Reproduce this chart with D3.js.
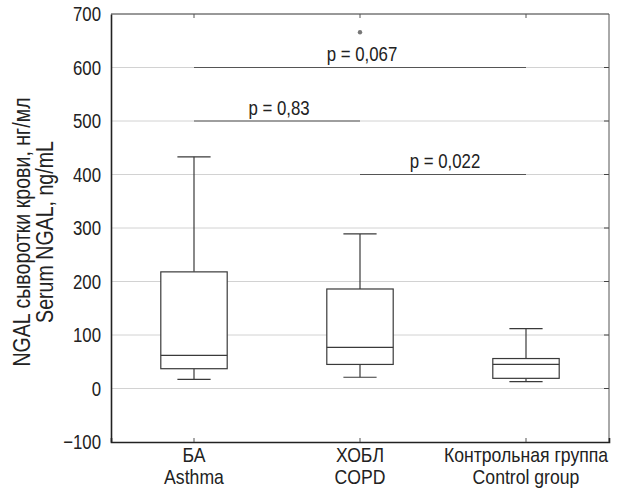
<!DOCTYPE html>
<html>
<head>
<meta charset="utf-8">
<script src="https://cdn.jsdelivr.net/npm/d3@7"></script>
<style>
  body { margin: 0; background: #fff; }
  text { font-family: "Liberation Sans", Arial, sans-serif; fill: #222; }
</style>
</head>
<body>
<svg id="chart" width="619" height="492"></svg>
<script>
// DATA
var groups_ru = ["БА", "ХОБЛ", "Контрольная группа"];
var groups_en = ["Asthma", "COPD", "Control group"];
var whisker_low  = [17, 21, 13];
var q1           = [37, 45, 19];
var median       = [62, 77, 45];
var q3           = [218, 186, 56];
var whisker_high = [433, 289, 112];
var outliers = [{group: 1, value: 666}];
var y_ticks = [-100, 0, 100, 200, 300, 400, 500, 600, 700];
var comparisons = [
  {from: 0, to: 2, level: 600, label: "p = 0,067"},
  {from: 0, to: 1, level: 500, label: "p = 0,83"},
  {from: 1, to: 2, level: 400, label: "p = 0,022"}
];

// arial narrow is not around, so squeeze arial sideways
var NARROW = 0.8;
function narrow(sel, cx, cy, k){
  sel.attr("transform", "translate(" + cx + "," + cy + ") scale(" + (k || NARROW) + ",1) translate(" + (-cx) + "," + (-cy) + ")");
}

// RENDERING
var svg = d3.select("#chart");
var margin = {left: 111, top: 14, right: 10, bottom: 50};
var w = 619 - margin.left - margin.right,
    h = 492 - margin.top - margin.bottom;

var g = svg.append("g").attr("transform", "translate(" + margin.left + "," + margin.top + ")");

var x = d3.scaleBand().domain(d3.range(groups_ru.length)).range([0, w]);
var y = d3.scaleLinear().domain([-100, 700]).range([h, 0]);
var inner_ticks = y_ticks.filter(function(t){ return t > -100 && t < 700; });

// grid
g.selectAll(".grid").data(inner_ticks)
  .enter().append("line")
    .attr("class", "grid")
    .attr("x1", 0).attr("x2", w)
    .attr("y1", function(d){ return y(d); })
    .attr("y2", function(d){ return y(d); })
    .attr("stroke", "#d2d2d2").attr("stroke-width", 1);

// right-side inner ticks
g.selectAll(".rtick").data(inner_ticks)
  .enter().append("line")
    .attr("x1", w - 5).attr("x2", w)
    .attr("y1", function(d){ return y(d); })
    .attr("y2", function(d){ return y(d); })
    .attr("stroke", "#444");

// comparisons
comparisons.forEach(function(c){
  var x1 = x(c.from) + x.bandwidth()/2,
      x2 = x(c.to) + x.bandwidth()/2;
  g.append("line")
    .attr("x1", x1).attr("x2", x2)
    .attr("y1", y(c.level)).attr("y2", y(c.level))
    .attr("stroke", "#555").attr("stroke-width", 1.2);
  var tx = (x1 + x2)/2 + 2, ty = y(c.level) - 6;
  g.append("text")
    .attr("x", tx)
    .attr("y", ty)
    .attr("text-anchor", "middle")
    .style("font-size", "21px")
    .text(c.label)
    .call(narrow, tx, ty);
});

// boxes
var bw = x.bandwidth() * 0.4;
groups_ru.forEach(function(name, i){
  var cx = x(i) + x.bandwidth()/2;
  var box = g.append("g").attr("stroke", "#3a3a3a").attr("stroke-width", 1.2).attr("fill", "none");
  box.append("line").attr("x1", cx).attr("x2", cx).attr("y1", y(whisker_high[i])).attr("y2", y(q3[i]));
  box.append("line").attr("x1", cx).attr("x2", cx).attr("y1", y(q1[i])).attr("y2", y(whisker_low[i]));
  box.append("line").attr("x1", cx - bw/4).attr("x2", cx + bw/4).attr("y1", y(whisker_high[i])).attr("y2", y(whisker_high[i]));
  box.append("line").attr("x1", cx - bw/4).attr("x2", cx + bw/4).attr("y1", y(whisker_low[i])).attr("y2", y(whisker_low[i]));
  box.append("rect")
    .attr("x", cx - bw/2).attr("width", bw)
    .attr("y", y(q3[i])).attr("height", y(q1[i]) - y(q3[i]))
    .attr("fill", "#fff");
  box.append("line").attr("x1", cx - bw/2).attr("x2", cx + bw/2).attr("y1", y(median[i])).attr("y2", y(median[i]));
});

// outliers
g.selectAll(".outlier").data(outliers).enter().append("circle")
  .attr("cx", function(d){ return x(d.group) + x.bandwidth()/2; })
  .attr("cy", function(d){ return y(d.value); })
  .attr("r", 2.2)
  .attr("fill", "#777");

// frame
g.append("line").attr("x1", 0).attr("x2", w).attr("y1", 0).attr("y2", 0).attr("stroke", "#333").attr("stroke-width", 1);
g.append("line").attr("x1", w).attr("x2", w).attr("y1", 0).attr("y2", h).attr("stroke", "#555").attr("stroke-width", 1);

// axes
var yAxis = g.append("g")
  .call(d3.axisLeft(y).tickValues(y_ticks).tickSize(0).tickPadding(10));
yAxis.select(".domain").attr("stroke", "#222").attr("stroke-width", 1.6);
yAxis.selectAll("text").style("font-size", "21px").attr("fill", "#222")
  .attr("transform", "translate(-10,0) scale(" + NARROW + ",1) translate(10,0)");

var xAxis = g.append("g").attr("transform", "translate(0," + h + ")")
  .call(d3.axisBottom(x).tickSize(-4).tickFormat(function(){ return ""; }));
xAxis.select(".domain").attr("stroke", "#222").attr("stroke-width", 1.6);
xAxis.selectAll(".tick line").attr("stroke", "#555");

// top ticks
g.selectAll(".ttick").data(d3.range(groups_ru.length)).enter().append("line")
  .attr("x1", function(d){ return x(d) + x.bandwidth()/2; })
  .attr("x2", function(d){ return x(d) + x.bandwidth()/2; })
  .attr("y1", 0).attr("y2", 4)
  .attr("stroke", "#555");

// category labels, two lines each
[groups_ru, groups_en].forEach(function(labels, line){
  var ly = h + 20 + line * 22;
  g.selectAll(".cat" + line).data(d3.range(labels.length)).enter().append("text")
    .attr("x", function(d){ return x(d) + x.bandwidth()/2; })
    .attr("y", ly)
    .attr("text-anchor", "middle")
    .style("font-size", "20.5px")
    .text(function(d){ return labels[d]; })
    .each(function(d){ narrow(d3.select(this), x(d) + x.bandwidth()/2, ly, 0.86); });
});

// y title
var yt = svg.append("text")
  .attr("transform", "translate(0," + (margin.top + h/2 + 4) + ") rotate(-90) scale(" + NARROW + ",1)")
  .attr("text-anchor", "middle")
  .style("font-size", "24.5px");
yt.append("tspan").attr("x", 0).attr("y", 30).text("NGAL сыворотки крови, нг/мл");
yt.append("tspan").attr("x", 0).attr("y", 53).text("Serum NGAL, ng/mL");
</script>
</body>
</html>
